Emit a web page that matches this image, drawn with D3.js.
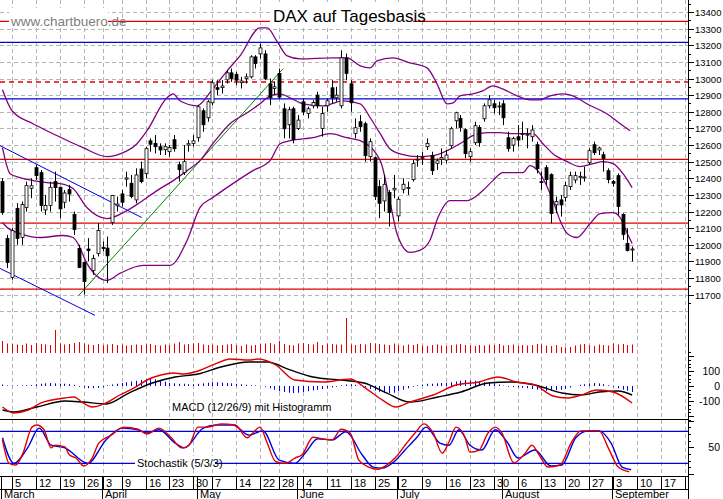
<!DOCTYPE html>
<html><head><meta charset="utf-8">
<script src="https://cdn.jsdelivr.net/npm/d3@7/dist/d3.min.js"></script>
<style>body{margin:0;background:#fff}svg{display:block;font-family:"Liberation Sans",Arial,sans-serif}</style>
</head><body><svg id="c" width="723" height="499"></svg>
<script>
// ---- DATA ----
const open=[12380,12038,11804,12218,12044,12224,12340,12464,12434,12210,12236,12380,12346,12256,12332,12182,11978,11894,11975,11846,11948,11985,11980,12134,12235,12306,12395,12370,12270,12456,12428,12625,12610,12590,12572,12560,12632,12482,12434,12600,12610,12644,12806,12764,12854,12945,12945,12992,13034,13025,12975,13000,13010,13130,13148,13148,12968,12940,13030,12818,12722,12818,12700,12860,12790,12836,12900,12700,12836,12944,12884,12836,13124,12968,12670,12740,12728,12530,12524,12350,12264,12314,12330,12174,12334,12340,12392,12510,12520,12590,12536,12490,12515,12510,12596,12746,12760,12692,12530,12614,12706,12758,12836,12848,12830,12848,12644,12600,12650,12665,12660,12650,12602,12380,12464,12422,12240,12270,12284,12350,12390,12410,12405,12494,12602,12570,12542,12446,12380,12416,12182,12008,11970];
const high=[12400,12060,12100,12250,12260,12380,12400,12480,12450,12300,12380,12440,12350,12330,12360,12200,12000,11900,12040,11940,12130,12020,12050,12300,12290,12330,12440,12420,12460,12500,12590,12640,12660,12610,12610,12600,12660,12500,12600,12630,12660,12840,12820,12870,12990,12990,12990,13050,13060,13040,13010,13030,13140,13140,13210,13170,13000,12980,13060,12850,12830,12830,12780,12880,12830,12870,12920,12830,12880,12990,12950,13170,13150,12990,12760,12780,12740,12640,12530,12390,12420,12330,12420,12290,12400,12380,12510,12540,12560,12640,12560,12520,12580,12570,12710,12800,12780,12700,12580,12740,12720,12850,12900,12870,12860,12870,12680,12650,12720,12740,12700,12720,12620,12440,12480,12430,12290,12300,12380,12440,12440,12440,12470,12580,12620,12590,12560,12460,12390,12430,12190,12100,11990];
const low=[12180,11860,11790,12000,12000,12200,12280,12390,12200,12180,12200,12260,12160,12220,12260,12060,11860,11702,11900,11820,11930,11960,11770,12120,12200,12230,12350,12280,12250,12370,12400,12560,12550,12540,12540,12530,12560,12380,12420,12560,12590,12620,12680,12740,12840,12900,12910,12970,12980,12960,12940,12970,13000,13060,13120,12990,12840,12900,12880,12640,12640,12610,12690,12780,12760,12820,12820,12650,12800,12850,12860,12820,12990,12800,12640,12680,12500,12500,12270,12160,12200,12110,12280,12140,12310,12300,12380,12470,12480,12570,12420,12450,12480,12490,12580,12700,12680,12520,12500,12600,12590,12740,12820,12790,12780,12720,12560,12560,12590,12630,12580,12620,12430,12330,12360,12130,12190,12170,12260,12330,12370,12360,12380,12480,12540,12540,12440,12370,12350,12180,12030,11960,11900];
const close=[12194,11894,12085,12038,12242,12356,12355,12416,12236,12236,12346,12344,12216,12312,12306,12092,11864,11780,11965,11918,12086,11978,11934,12296,12245,12256,12402,12290,12420,12380,12578,12605,12590,12570,12590,12585,12578,12452,12500,12608,12625,12830,12722,12860,12974,12935,12955,13034,13000,12990,12985,13010,13130,13090,13184,12998,12884,12950,12888,12698,12812,12632,12750,12800,12818,12856,12836,12790,12866,12884,12900,13124,13030,12854,12704,12710,12536,12620,12290,12250,12364,12194,12340,12274,12364,12345,12488,12515,12525,12610,12446,12505,12525,12540,12698,12794,12706,12548,12560,12716,12614,12836,12872,12824,12835,12764,12578,12640,12630,12670,12665,12690,12458,12374,12392,12188,12260,12240,12356,12416,12416,12412,12408,12566,12554,12582,12518,12392,12370,12230,12062,11966,11975];
const volume=[120,95,90,85,80,95,80,100,90,85, 80,230,95,85,90,100,110,95,85,80, 90,75,85,90,80,85,75,80,85,80, 85,90,80,75,85,80,95,110,85,90, 95,100,85,80,85,75,80,85,90,80, 70,85,75,80,90,95,100,85,120,90, 80,75,95,100,90,85,110,80,95,90, 85,85,350,85,80,90,85,100,95,90, 85,80,95,80,75,85,80,90,75,70, 80,85,75,70,80,85,90,80,75,70, 80,75,85,80,90,75,80,85,70,80, 75,80,90,85,75,70,80,60,55,60, 75,85,90,80,70,85,80,75,95,85, 90,80,85];
const histogram=[10,4,3,3,4,5,6, 12,15,18,20,18,16,15,12,8, -5,-10,-15,-15,-12,-8, 5,10,15,20,25,30,35, 40,45,48,45,40,30, 20,18,15,15,12,12,15, 18,22,25,25,22,20,18,15,12, 8,5,3,0,-5, -15,-25,-35,-40,-45,-48,-45, -40,-35,-30,-25,-20,-15,-10,-5, 5,10,12,8,2, -10,-20,-30,-38,-45,-48,-45,-35,-25, -15,-5,5, 10,15,15,18,20,22,25, 30,35,40,38,35,30, 25,22,18,10, 2,-5,-8,-10,-12,-15,-20, -25,-30,-32,-30,-28,-25,-20, -10,0,8,12,18,20, 18,12,5,-5, -15,-25,-32,-40];
// indicator lines read as [day index, value]
const bbUpper=[[0,12932],[2,12806],[6.4,12728],[10.6,12668],[16.9,12584],[21.9,12530],[25.3,12554],[28.2,12608],[30.3,12686],[34.5,12884],[35.8,12908],[37.2,12866],[40.8,12836],[44.1,12938],[47.1,13046],[49.8,13136],[54,13304],[55.5,13304],[57.5,13226],[59.7,13136],[62.4,13118],[69.3,13124],[72.2,13124],[75,13076],[77.1,13064],[78.5,13106],[81.9,13124],[85.4,13094],[89,13064],[91.1,12968],[93.2,12848],[94.5,12854],[95.9,12896],[98.6,12908],[100.7,12926],[102.8,12956],[104.3,12944],[107.9,12896],[110.6,12872],[112.7,12872],[114.8,12896],[117.5,12908],[119.6,12896],[122.5,12848],[126.7,12788],[129.5,12728],[131.6,12686]];
const bbMiddle=[[0,12584],[1.6,12428],[3.7,12404],[6.4,12386],[9.3,12374],[12.1,12368],[14.8,12338],[17.7,12224],[21.9,12158],[26.1,12206],[28.8,12254],[32.4,12326],[35.8,12386],[38.7,12446],[41.4,12506],[44.1,12608],[47.7,12728],[51.3,12794],[54,12848],[56.1,12896],[58.2,12908],[60.3,12884],[63,12848],[67.2,12836],[71.4,12866],[75,12848],[77.1,12764],[79.2,12668],[81.2,12578],[84,12542],[86.9,12530],[90.3,12536],[93.2,12566],[95.9,12608],[98.6,12656],[101.6,12674],[104.3,12674],[107,12668],[111.2,12668],[113.3,12608],[115.4,12548],[118.4,12500],[121.1,12470],[123.8,12488],[125.9,12500],[128,12488],[130.1,12428],[132,12344]];
const bbLower=[[0,12134],[1,12104],[3.7,12068],[7.9,12044],[12.7,12056],[14.8,12044],[15.8,12008],[17.7,11888],[21.9,11786],[24.6,11828],[29.5,11876],[35.1,11876],[38.7,12026],[41.4,12224],[44.1,12284],[48.3,12368],[52.5,12446],[56.1,12506],[58.2,12608],[60.3,12626],[65.1,12644],[68.7,12668],[72.2,12644],[75,12626],[79.2,12506],[81.2,12266],[82.7,12068],[85.4,11954],[87.5,11966],[89.6,12026],[91.3,12164],[93.8,12266],[97.4,12266],[100.7,12326],[102.8,12386],[104.9,12434],[109.1,12434],[110.6,12476],[112.7,12428],[115.4,12266],[116.9,12146],[118.4,12068],[120.4,12044],[123.2,12128],[125.3,12188],[128,12194],[129.5,12164],[131,12068],[132,12008]];
const macdLine=[[0,-140],[2.4,-180],[5.4,-160],[8.1,-113],[13.1,-80],[15,-73],[16.9,-113],[18.8,-140],[21.7,-113],[24.6,-60],[27.6,-13],[30.3,40],[33.2,73],[35.8,87],[38.1,80],[41,100],[45,153],[47.7,180],[51.7,173],[53.6,180],[57.3,140],[61.3,40],[67.2,27],[72.9,47],[75.8,-7],[79.6,-93],[82.5,-140],[85.4,-107],[90.3,-60],[95.1,7],[99.9,27],[103.9,60],[107.7,27],[111.6,7],[115.4,-67],[118.4,-80],[121.3,-60],[124.6,-27],[128,-40],[132,-113]];
const signalLine=[[0,-160],[2.4,-173],[7.2,-140],[13.1,-100],[16.9,-107],[21.7,-120],[26.5,-47],[31.4,20],[36.2,60],[41,80],[45.8,127],[51.7,160],[55.5,160],[60.3,107],[65.1,60],[71,40],[75.8,20],[80.6,-47],[85.4,-107],[91.3,-73],[96.1,-40],[101.8,20],[106.8,27],[111.6,7],[117.3,-47],[121.3,-60],[125.1,-40],[129.1,-33],[132,-60]];
const stochK=[[0,64],[1.4,20],[2.8,17],[4.3,39],[6.2,88],[7.2,92],[8.7,83],[10.2,49],[11,54],[13.1,51],[14,36],[15.4,30],[17.1,15],[18.8,30],[20.2,58],[22.8,73],[25.5,88],[28.4,84],[30.3,75],[32.8,86],[35.3,69],[37.6,49],[39.1,54],[41,88],[42.9,88],[45.8,94],[48.8,92],[51.3,68],[52.5,77],[54,88],[55.5,58],[57.3,23],[59.4,20],[61.3,30],[62.8,36],[65.1,69],[67.2,66],[69.1,64],[71,84],[72.9,77],[74.7,26],[76.8,13],[78.7,9],[80.6,17],[82.5,32],[84.4,54],[86.5,77],[88.4,94],[90.3,77],[92.2,39],[93.6,60],[95.1,88],[97,68],[98,41],[99.9,45],[101.8,77],[103.3,88],[104.7,77],[107.2,21],[109.6,39],[111,54],[112.5,36],[114.4,13],[116.9,17],[119.2,58],[121.3,81],[123.2,81],[125.1,81],[127,49],[129.1,13],[131.4,4]];
const stochD=[[0,68],[2.4,20],[5.4,51],[7.7,86],[10.2,54],[13.1,49],[17.9,20],[21.7,64],[25.1,86],[28.4,83],[30.3,77],[32.8,83],[36.2,58],[38.1,49],[42.1,86],[45,92],[48.3,92],[51.7,73],[54.6,81],[58,26],[61.3,20],[63.6,41],[66.1,66],[69.1,64],[72.0,79],[75.4,36],[77.7,13],[79.6,11],[82.1,23],[84.4,45],[86.9,69],[88.8,88],[91.7,58],[93.6,54],[95.7,83],[98,54],[100.5,45],[103.3,83],[105.8,60],[108.1,30],[111.6,45],[115,15],[117.3,17],[120.2,68],[122.8,81],[125.1,81],[127.6,58],[129.9,13],[131.8,8]];
const dayTicks=[[2,"5"],[7,"12"],[12,"19"],[17,"26"],[21,"3"],[25,"9"],[30,"16"],[35,"23"],[40,"30"],[44,"7"],[49,"14"],[54,"22"],[58,"28"],[63,"4"],[68,"11"],[73,"18"],[78,"25"],[83,"2"],[88,"9"],[93,"16"],[98,"23"],[103,"30"],[108,"6"],[113,"13"],[118,"20"],[123,"27"],[128,"3"],[133,"10"],[138,"17"],[143,"24"]];
const monthTicks=[[0,"March"],[21,"April"],[41,"May"],[62,"June"],[83,"July"],[105,"August"],[128,"September"]];
const priceTicks=[11700,11800,11900,12000,12100,12200,12300,12400,12500,12600,12700,12800,12900,13000,13100,13200,13300,13400];
const hLines=[[13344,"#e00000",false],[13217,"#0000e0",false],[12979,"#e00000",true],[12877,"#0000e0",false],[12514,"#e00000",false],[12131,"#e00000",false],[11734,"#e00000",false]];
const channelUpper=[[-0.5,12596],[29.2,12164]];
const channelLower=[[-0.5,11858],[19.4,11576]];
const greenTrend=[[16,11696],[58.8,13058]];
const macdTicks=[[100,"100"],[0,"0"],[-100,"-100"]];

// ---- CHART ----
const svg=d3.select("#c");
const R=688;
const x=d3.scaleLinear().domain([0,132]).range([2.46,2.46+132*4.77]);
const y=d3.scaleLinear().domain([11548,13472]).range([320,0]);
const yVol=d3.scaleLinear().domain([0,100]).range([353,343]);
const yM=d3.scaleLinear().domain([-100,100]).range([401,371]);
const yS=d3.scaleLinear().domain([0,100]).range([474,420.7]);
const grid="#b4b4b4";
const defs=svg.append("defs");
defs.append("clipPath").attr("id","pc").append("rect").attr("x",0).attr("y",0).attr("width",R).attr("height",320);
defs.append("clipPath").attr("id","ac").append("rect").attr("x",0).attr("y",0).attr("width",R).attr("height",499);
const g=svg.append("g").attr("clip-path","url(#ac)");
priceTicks.concat([11600]).forEach(v=>g.append("line").attr("x1",0).attr("x2",R).attr("y1",Math.round(y(v))+.5).attr("y2",Math.round(y(v))+.5).attr("stroke",grid).attr("stroke-dasharray","4,3"));
dayTicks.forEach(([i])=>g.append("line").attr("x1",Math.round(x(i))+.5).attr("x2",Math.round(x(i))+.5).attr("y1",0).attr("y2",476).attr("stroke",grid).attr("stroke-dasharray","4,3"));
const p=svg.append("g").attr("clip-path","url(#pc)");
hLines.forEach(([v,c,d])=>p.append("line").attr("x1",0).attr("x2",R).attr("y1",y(v)).attr("y2",y(v)).attr("stroke",c).attr("stroke-width",1.3).attr("stroke-dasharray",d?"5,4":null));
const line2=(pts,c)=>p.append("path").attr("d",d3.line().x(d=>x(d[0])).y(d=>y(d[1]))(pts)).attr("stroke",c).attr("fill","none").attr("stroke-width",1);
line2(channelUpper,"#0000e0");line2(channelLower,"#0000e0");line2(greenTrend,"#008000");
const bl=d3.line().x(d=>x(d[0])).y(d=>y(d[1])).curve(d3.curveMonotoneX);
[bbUpper,bbMiddle,bbLower].forEach(b=>p.append("path").attr("d",bl(b)).attr("fill","none").attr("stroke","#800080").attr("stroke-width",1.3));
close.forEach((c,i)=>{
  const cx=Math.round(x(i))+.5,o=open[i];
  p.append("line").attr("x1",cx).attr("x2",cx).attr("y1",y(high[i])).attr("y2",y(low[i])).attr("stroke","#000");
  const t=y(Math.max(o,c)),b=y(Math.min(o,c));
  p.append("rect").attr("x",cx-1.5).attr("y",t).attr("width",3).attr("height",Math.max(1,b-t)).attr("fill",c>=o?"#fff":"#000").attr("stroke","#000").attr("stroke-width",0.8);
});
svg.append("rect").attr("x",9).attr("y",8).attr("width",99).attr("height",20).attr("fill","#fff");
svg.append("rect").attr("x",270).attr("y",2).attr("width",143).attr("height",24).attr("fill","#fff");
svg.append("text").attr("x",11).attr("y",26).attr("font-size",13.5).attr("fill","#808080").text("www.chartbuero.de");
svg.append("text").attr("x",273).attr("y",22).attr("font-size",17).attr("fill","#000").text("DAX auf Tagesbasis");
volume.forEach((v,i)=>svg.append("line").attr("x1",Math.round(x(i))+.5).attr("x2",Math.round(x(i))+.5).attr("y1",yVol(0)).attr("y2",yVol(v)).attr("stroke","#e00000").attr("stroke-width",1));
histogram.forEach((v,i)=>svg.append("line").attr("x1",Math.round(x(i))+.5).attr("x2",Math.round(x(i))+.5).attr("y1",yM(0)).attr("y2",yM(v)).attr("stroke","#0000e0"));
const ml=d3.line().x(d=>x(d[0])).y(d=>yM(d[1])).curve(d3.curveMonotoneX);
svg.append("path").attr("d",ml(signalLine)).attr("fill","none").attr("stroke","#000").attr("stroke-width",1.4);
svg.append("path").attr("d",ml(macdLine)).attr("fill","none").attr("stroke","#e00000").attr("stroke-width",1.4);
svg.append("text").attr("x",172).attr("y",411).attr("font-size",11).text("MACD (12/26/9) mit Histogramm");
svg.append("line").attr("x1",0).attr("x2",R).attr("y1",419.5).attr("y2",419.5).attr("stroke","#000");
[80,20].forEach(v=>svg.append("line").attr("x1",0).attr("x2",R).attr("y1",yS(v)).attr("y2",yS(v)).attr("stroke","#0000e0").attr("stroke-width",1.3));
const sl=d3.line().x(d=>x(d[0])).y(d=>yS(d[1])).curve(d3.curveMonotoneX);
svg.append("path").attr("d",sl(stochD)).attr("fill","none").attr("stroke","#0000e0").attr("stroke-width",1.4);
svg.append("path").attr("d",sl(stochK)).attr("fill","none").attr("stroke","#e00000").attr("stroke-width",1.4);
svg.append("rect").attr("x",135).attr("y",456).attr("width",80).attr("height",13).attr("fill","#fff");
svg.append("text").attr("x",137).attr("y",467).attr("font-size",11).text("Stochastik (5/3/3)");
svg.append("line").attr("x1",0).attr("x2",R).attr("y1",476.5).attr("y2",476.5).attr("stroke","#000");
svg.append("line").attr("x1",0).attr("x2",R).attr("y1",489.5).attr("y2",489.5).attr("stroke","#000");
const ax=svg.append("g").attr("clip-path","url(#ac)");
dayTicks.forEach(([i,l])=>{const xx=Math.round(x(i))+.5;
  ax.append("line").attr("x1",xx).attr("x2",xx).attr("y1",476).attr("y2",489).attr("stroke","#000");
  ax.append("text").attr("x",xx+2.5).attr("y",487).attr("font-size",11).text(l);});
monthTicks.forEach(([i,l])=>{const xx=Math.max(0.5,Math.round(x(i))-0.5);
  ax.append("line").attr("x1",xx).attr("x2",xx).attr("y1",476).attr("y2",499).attr("stroke","#000");
  ax.append("text").attr("x",xx+2.5).attr("y",498).attr("font-size",11).text(l);});
svg.append("line").attr("x1",R+.5).attr("x2",R+.5).attr("y1",0).attr("y2",499).attr("stroke","#000");
d3.range(11650,13451,50).forEach(v=>svg.append("line").attr("x1",R).attr("x2",R+(v%100?3:6)).attr("y1",Math.round(y(v))+.5).attr("y2",Math.round(y(v))+.5).attr("stroke","#000"));
priceTicks.forEach(v=>svg.append("text").attr("x",695).attr("y",y(v)+4).attr("font-size",9.5).text(v));
d3.range(-225,226,25).forEach(v=>svg.append("line").attr("x1",R).attr("x2",R+(v%100?3:6)).attr("y1",Math.round(yM(v))+.5).attr("y2",Math.round(yM(v))+.5).attr("stroke","#000"));
macdTicks.forEach(([v,l])=>svg.append("text").attr("x",720).attr("y",yM(v)+4).attr("font-size",10.5).attr("text-anchor","end").text(l));
d3.range(0,101,12.5).forEach(v=>svg.append("line").attr("x1",R).attr("x2",R+(v%50?3:6)).attr("y1",Math.round(yS(v))+.5).attr("y2",Math.round(yS(v))+.5).attr("stroke","#000"));
svg.append("text").attr("x",720).attr("y",yS(50)+4).attr("font-size",10.5).attr("text-anchor","end").text("50");
</script></body></html>
